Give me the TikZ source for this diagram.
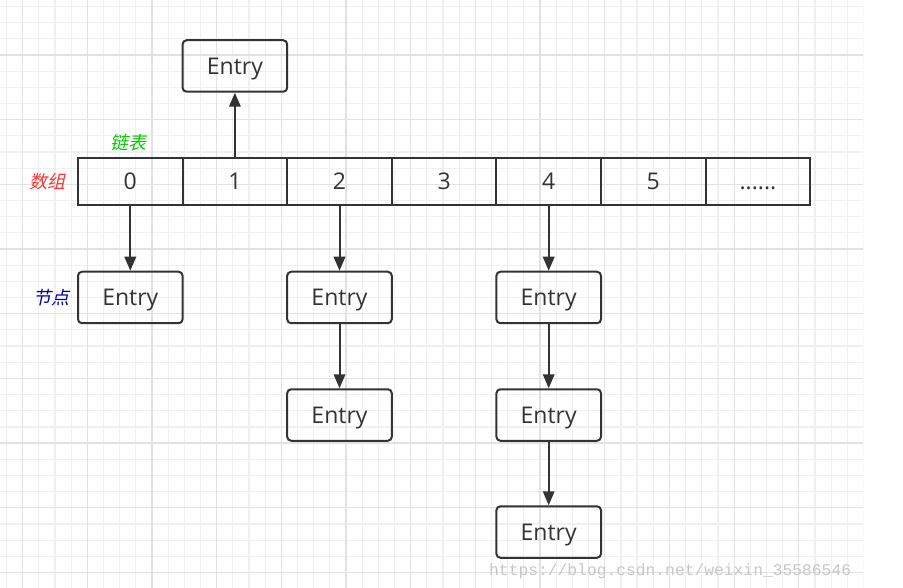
\documentclass[tikz,border=0pt]{standalone}
\usepackage{fontspec}
\setmainfont{Open Sans}
\newfontfamily\cjk[FakeSlant=0.22]{Noto Sans CJK SC}
\newfontfamily\wmfont{Liberation Mono}
\usetikzlibrary{arrows.meta}
\definecolor{ln}{HTML}{333333}
\definecolor{gminor}{HTML}{F0F0F0}
\definecolor{gmajor}{HTML}{E2E2E2}
\definecolor{lgreen}{RGB}{0,204,0}
\definecolor{lred}{RGB}{255,51,51}
\definecolor{lblue}{RGB}{0,0,170}
\tikzset{
  cell/.style={draw=ln, line width=2pt, minimum width=104.6pt, minimum height=47pt, inner sep=0pt, text=ln, font=\fontsize{23}{27}\selectfont, text height=16.4pt, text depth=0pt},
  entry/.style={cell, rounded corners=4pt, minimum height=51.5pt},
  arr/.style={draw=ln, line width=2pt, -{Triangle[length=14pt,width=11.5pt]}},
  lab/.style={font=\cjk\fontsize{18}{20}\selectfont, inner sep=0pt},
  minorline/.style={draw=gminor, line width=1.2pt},
  majorline/.style={draw=gmajor, line width=1.2pt}
}
\begin{document}
\begin{tikzpicture}[x=1pt,y=-1pt]
\useasboundingbox (0,0) rectangle (903,588);
\fill[white] (0,0) rectangle (903,588);
\begin{scope}
\clip (0,0) rectangle (863,588);
\foreach \k in {-5,...,48} \draw[minorline] ({87.3+16.17*\k},0) -- ++(0,588);
\foreach \k in {-3,...,33} \draw[minorline] (0,{55+16.17*\k}) -- ++(863,0);
\foreach \k in {-4,0,...,48} \draw[majorline] ({87.3+16.17*\k},0) -- ++(0,588);
\foreach \k in {0,4,...,32} \draw[majorline] (0,{55+16.17*\k}) -- ++(863,0);
\end{scope}
% array cells
\node[cell] (c0) at (130.3,181.5) {0};
\node[cell] (c1) at (234.9,181.5) {1};
\node[cell] (c2) at (339.5,181.5) {2};
\node[cell] (c3) at (444.1,181.5) {3};
\node[cell] (c4) at (548.7,181.5) {4};
\node[cell] (c5) at (653.3,181.5) {5};
\node[cell] (c6) at (757.9,181.5) {......};
% entries
\node[entry] (et) at (234.9,66) {Entry};
\node[entry] (e0) at (130.3,297.5) {Entry};
\node[entry] (e2a) at (339.5,297.5) {Entry};
\node[entry] (e2b) at (339.5,415) {Entry};
\node[entry] (e4a) at (548.7,297.5) {Entry};
\node[entry] (e4b) at (548.7,415) {Entry};
\node[entry] (e4c) at (548.7,532) {Entry};
% arrows
\draw[arr] (c1) -- (et);
\draw[arr] (c0) -- (e0);
\draw[arr] (c2) -- (e2a);
\draw[arr] (e2a) -- (e2b);
\draw[arr] (c4) -- (e4a);
\draw[arr] (e4a) -- (e4b);
\draw[arr] (e4b) -- (e4c);
% labels
\node[lab, text=lgreen] (l1) at (128,143) {链表};
\node[lab, text=lred] (l2) at (48,182) {数组};
\node[lab, text=lblue] (l3) at (52,298) {节点};
% watermark
\node[anchor=base west, inner sep=0pt, text=black!22, font=\wmfont\fontsize{16.3}{18}\selectfont] (wm) at (489,575) {https://blog.csdn.net/weixin\_35586546};
\end{tikzpicture}
\end{document}
